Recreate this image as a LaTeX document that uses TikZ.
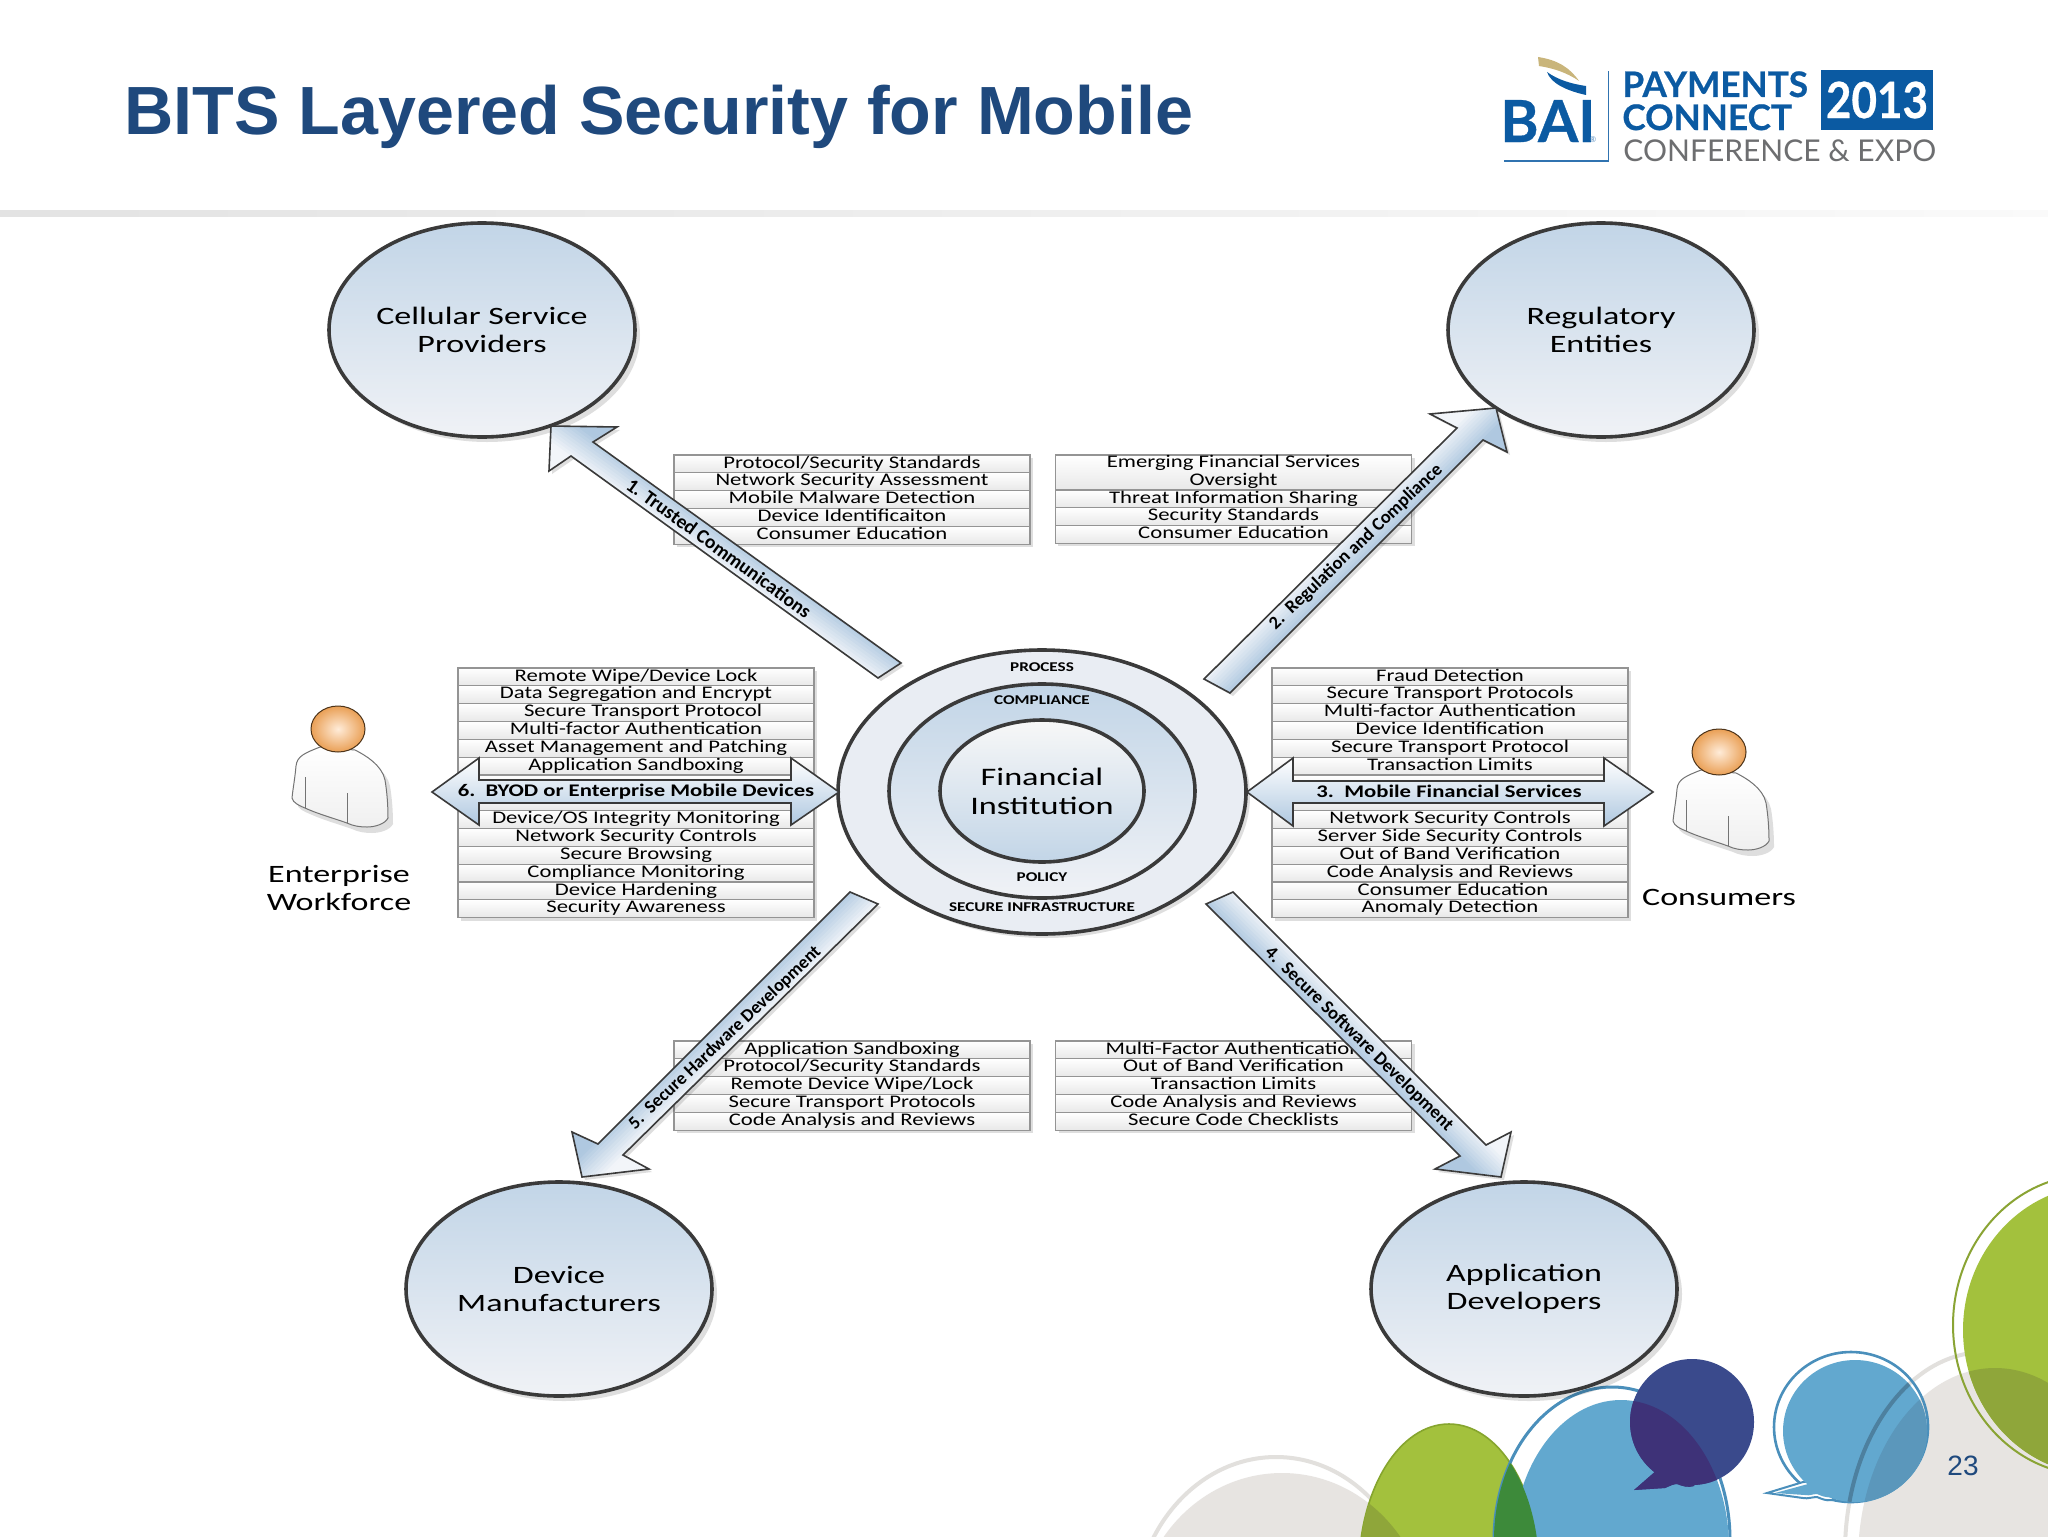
\documentclass[tikz,border=0pt]{standalone}
\usepackage{fontspec}
\usetikzlibrary{shapes.geometric}
\setmainfont{Carlito}
\newfontfamily\wide[FakeStretch=1.28]{Carlito}
\newfontfamily\wider[FakeStretch=1.36]{Carlito}
\newfontfamily\titlefont{Liberation Sans}
\newfontfamily\logofont{Lato}
\newfontfamily\logoheavy[FakeBold=0.6]{Lato}
\newfontfamily\logonarrow[FakeStretch=0.88,FakeBold=0.6]{Lato}
\definecolor{titleblue}{HTML}{1F497D}
\definecolor{logoblue}{HTML}{0B5AA2}
\definecolor{logogray}{HTML}{6D6E70}
\definecolor{logogold}{HTML}{C9B57B}
\definecolor{ringdark}{HTML}{3A3A3A}
\definecolor{ovaltop}{HTML}{C2D5E7}
\definecolor{ovalbot}{HTML}{F0F2F6}
\definecolor{ringfill}{HTML}{E9EDF3}
\definecolor{arrowblue}{HTML}{AFC8E0}
\definecolor{arrowlight}{HTML}{F2F5F9}
\definecolor{bubblegray}{HTML}{E7E4E1}
\definecolor{bubblering}{HTML}{E2E0DD}
\definecolor{bubblegreen}{HTML}{A3C13D}
\definecolor{greenring}{HTML}{86A52E}
\definecolor{olive}{HTML}{8FA63A}
\definecolor{darkgreen}{HTML}{3D8A3A}
\definecolor{bubbleblue}{HTML}{62A8CF}
\definecolor{bluering}{HTML}{4A8FBB}
\definecolor{navy}{HTML}{3A4A8C}
\definecolor{purple2}{HTML}{3E3278}
\definecolor{grayblue}{HTML}{5B97BB}
\tikzset{
  oval/.style={ellipse,draw=ringdark,line width=1.8pt,top color=ovaltop,bottom color=ovalbot,
    minimum width=153pt,minimum height=107pt,inner sep=0pt,align=center,
    font=\wider\fontsize{12.5}{14}\selectfont},
  softshadow/.style={fill=black,opacity=.13},
  tablerow/.style={rectangle,draw=black!42,line width=.6pt,top color=white,bottom color=black!9,
    inner sep=0pt,minimum height=8.92pt,text height=6pt,text depth=1.8pt,
    font=\wide\fontsize{8.87}{10}\selectfont},
  ringlabel/.style={inner sep=0pt,font=\wide\bfseries\fontsize{6.7}{8}\selectfont},
  arrowlabel/.style={inner sep=0pt,font=\bfseries\fontsize{9.5}{11}\selectfont},
  bandlabel/.style={inner sep=0pt,font=\wide\bfseries\fontsize{8.87}{10}\selectfont},
  sidelabel/.style={inner sep=0pt,align=center,font=\wider\fontsize{12.5}{14}\selectfont},
  arrowline/.style={draw=ringdark,line width=.8pt,line join=miter},
  logotext/.style={inner sep=0pt,anchor=base west,text=logoblue},
}
\newcounter{nrows}
\newcommand{\rowstack}[5]{% name, centre x, top y, width in pt, list
  \fill[softshadow] ({#2-#4+3},{#3+3}) rectangle ({#2+#4+3},{#3+3+\value{nrows}*17.83});
  \foreach \t [count=\i] in {#5}{
    \node[tablerow,minimum width=#4pt] (#1\i) at ({#2},{#3+(\i-.5)*17.83}) {\t};
  }}
\newcommand{\blockarrow}[5]{% centre x, centre y, angle, sign, polygon
  \fill[softshadow,shift={(3,3)}] #5 -- cycle;
  \begin{scope}
    \clip #5 -- cycle;
    \begin{scope}[shift={(#1,#2)},rotate=#3]
      \foreach \u in {-51,-48,...,51}{
        \pgfmathsetmacro\pp{max(0,min(100,50+#4*\u*3.2))}
        \fill[arrowblue!\pp!arrowlight] (-400,{\u-2}) rectangle (400,{\u+2});
      }
    \end{scope}
  \end{scope}
  \path[arrowline] #5 -- cycle;}
\newcommand{\person}[2]{%
  \begin{scope}[shift={(#1,#2)}]
    \fill[softshadow,shift={(5,6)}] (320,747) .. controls (305,753) and (297,756) .. (296,766)
      .. controls (295,778) and (293,788) .. (292,798) .. controls (293,803) and (300,806) .. (305,808)
      .. controls (318,814) and (333,818) .. (347,823) .. controls (353,826) and (360,827) .. (367,827)
      .. controls (375,827) and (385,824) .. (388,818) .. controls (388,805) and (387,792) .. (385,780)
      .. controls (382,765) and (365,755) .. (355,750) -- cycle;
    \path[draw=black!55,line width=.5pt,top color=white,bottom color=black!6] (320,747) .. controls (305,753) and (297,756) .. (296,766)
      .. controls (295,778) and (293,788) .. (292,798) .. controls (293,803) and (300,806) .. (305,808)
      .. controls (318,814) and (333,818) .. (347,823) .. controls (353,826) and (360,827) .. (367,827)
      .. controls (375,827) and (385,824) .. (388,818) .. controls (388,805) and (387,792) .. (385,780)
      .. controls (382,765) and (365,755) .. (355,750) -- cycle;
    \draw[black!55,line width=.5pt] (305,777) -- (305,808) (347,793) -- (347,823);
    \path[draw=black!60!brown,line width=.5pt,inner color=white!85!orange,outer color=orange!55!brown!75!white] (338,729) ellipse (27 and 23);
  \end{scope}}
\begin{document}
\begin{tikzpicture}[x=0.5pt,y=-0.5pt]
\useasboundingbox (0,0) rectangle (2048,1536);
\fill[white] (0,0) rectangle (2048,1536);
% ---- divider
\path[left color=black!11,right color=black!2] (0,210) rectangle (2048,216);
% ---- title
\node[inner sep=0pt,anchor=base west,text=titleblue,font=\titlefont\bfseries\fontsize{34.1}{36}\selectfont] (title) at (124,134) {BITS Layered Security for Mobile};
% ---- logo
\fill[logogold] (1538,57) .. controls (1558,60) and (1570,68) .. (1579,81) .. controls (1566,72) and (1552,68) .. (1539,66) -- cycle;
\fill[logoblue] (1547,72) .. controls (1558,80) and (1572,84) .. (1586,86) -- (1586,95) .. controls (1568,91) and (1551,84) .. (1547,72) -- cycle;
\node[logotext,font=\logoheavy\bfseries\fontsize{29}{30}\selectfont] (bai) at (1500,142) {BAI};
\node[inner sep=0pt,text=logoblue!70,font=\logofont\fontsize{4}{5}\selectfont] (reg) at (1593,140) {®};
\draw[logoblue!85,line width=.7pt] (1504,161) -- (1608.5,161) -- (1608.5,71);
\node[logotext,font=\logoheavy\bfseries\fontsize{17.6}{18}\selectfont] (pay) at (1622,97) {PAYMENTS};
\node[logotext,font=\logoheavy\bfseries\fontsize{17.6}{18}\selectfont] (con) at (1622,130) {CONNECT};
\node[rectangle,fill=logoblue,inner sep=0pt,minimum width=56pt,minimum height=30pt,text=white,font=\logonarrow\bfseries\fontsize{25}{26}\selectfont] (year) at (1877,100) {2013};
\node[inner sep=0pt,anchor=base west,text=logogray,font=\logofont\fontsize{15}{17}\selectfont] (conf) at (1623,162) {CONFERENCE \& EXPO};
% ---- bubbles
\begin{scope}
\clip (0,0) rectangle (2048,1536);
% grey left
\draw[bubblering,line width=2pt] (1276,1620) ellipse (142 and 163);
\fill[bubblegray] (1282,1630) ellipse (147 and 157);
% grey right
\draw[bubblering,line width=2pt] (1985,1552) ellipse (140 and 200);
\fill[bubblegray] (1995,1560) ellipse (137 and 192);
% green right
\draw[bubblegreen!85!black,line width=1pt] (2090,1325) ellipse (137 and 150);
\fill[bubblegreen] (2100,1330) ellipse (137 and 145);
\begin{scope}
  \clip (1995,1560) ellipse (137 and 192);
  \fill[olive] (2100,1330) ellipse (137 and 145);
\end{scope}
% green bottom
\fill[bubblegreen] (1449,1570) ellipse (90 and 146);
\draw[greenring,line width=.8pt] (1449,1570) ellipse (90 and 146);
\begin{scope}
  \clip (1282,1630) ellipse (147 and 157);
  \fill[olive] (1449,1570) ellipse (90 and 146);
\end{scope}
% big blue
\draw[bluering,line width=1.5pt] (1612,1540) ellipse (118 and 153);
\fill[bubbleblue] (1621,1548) ellipse (108 and 148);
\begin{scope}
  \clip (1449,1570) ellipse (90 and 146);
  \fill[darkgreen] (1612,1540) ellipse (118 and 153);
\end{scope}
% navy speech bubble
\fill[navy] (1692,1422) ellipse (62 and 63);
\fill[navy] (1657,1470) -- (1634,1490) -- (1665,1488) .. controls (1670,1486) and (1673,1484) .. (1677,1484) .. controls (1682,1486) and (1688,1488) .. (1694,1486) -- (1700,1470) -- cycle;
\begin{scope}
  \clip (1621,1548) ellipse (108 and 148);
  \fill[purple2] (1692,1422) ellipse (62 and 63);
  \fill[purple2] (1657,1470) -- (1634,1490) -- (1665,1488) .. controls (1670,1486) and (1673,1484) .. (1677,1484) .. controls (1682,1486) and (1688,1488) .. (1694,1486) -- (1700,1470) -- cycle;
\end{scope}
% light blue speech bubble
\draw[bluering,line width=1.3pt] (1851,1427) ellipse (77 and 75);
\draw[bluering,line width=1pt,fill=white] (1803,1482) -- (1767,1493) -- (1803,1498) .. controls (1808,1499) and (1812,1497) .. (1817,1497) .. controls (1822,1499) and (1826,1501) .. (1832,1500) -- (1850,1480) -- cycle;
\fill[bubbleblue] (1855,1431) ellipse (72 and 71);
\fill[bubbleblue] (1808,1484) -- (1775,1493) -- (1805,1495) .. controls (1810,1496) and (1812,1494) .. (1817,1494) .. controls (1822,1496) and (1826,1498) .. (1832,1497) -- (1850,1480) -- cycle;
\begin{scope}
  \clip (1995,1560) ellipse (137 and 192);
  \fill[grayblue] (1855,1431) ellipse (72 and 71);
\end{scope}
\begin{scope}
  \clip (1855,1431) ellipse (72 and 71);
  \draw[grayblue!85!black,line width=2pt] (1985,1552) ellipse (140 and 200);
\end{scope}
\end{scope}
\node[inner sep=0pt,text=titleblue,font=\titlefont\fontsize{14}{16}\selectfont] (page) at (1963,1466) {23};
% ---- tables
\setcounter{nrows}{5}
\rowstack{tl}{852}{455}{178}{Protocol/Security Standards,Network Security Assessment,Mobile Malware Detection,Device Identificaiton,Consumer Education}
\fill[softshadow] (1058,458) rectangle (1415,546);
\node[tablerow,minimum width=178pt,minimum height=17.5pt] (tr1) at (1233.5,472.5) {};
\node[inner sep=0pt,align=center,font=\wide\fontsize{8.87}{9}\selectfont] (tr1text) at (1233.5,471.5) {Emerging Financial Services\\ Oversight};
\foreach \t [count=\i from 2] in {Threat Information Sharing,Security Standards,Consumer Education}{
  \node[tablerow,minimum width=178pt] (tr\i) at (1233.5,{490+(\i-1.5)*17.83}) {\t};
}
\rowstack{bl}{852}{1041}{178}{Application Sandboxing,Protocol/Security Standards,Remote Device Wipe/Lock,Secure Transport Protocols,Code Analysis and Reviews}
\rowstack{br}{1233.5}{1041}{178}{Multi-Factor Authentication,Out of Band Verification,Transaction Limits,Code Analysis and Reviews,Secure Code Checklists}
\setcounter{nrows}{14}
\rowstack{lt}{636}{668}{178}{Remote Wipe/Device Lock,Data Segregation and Encrypt,\hspace*{7pt}Secure Transport Protocol,Multi-factor Authentication,Asset Management and Patching,Application Sandboxing,{},{},Device/OS Integrity Monitoring,Network Security Controls,Secure Browsing,Compliance Monitoring,Device Hardening,Security Awareness}
\rowstack{rt}{1450}{668}{178}{Fraud Detection,Secure Transport Protocols,Multi-factor Authentication,Device Identification,Secure Transport Protocol,Transaction Limits,{},{},Network Security Controls,Server Side Security Controls,Out of Band Verification,Code Analysis and Reviews,\hspace*{3pt}Consumer Education,Anomaly Detection}
% ---- outer ovals
\foreach \n/\x/\y/\t in {cell/482/330/{Cellular Service\\Providers},reg2/1601/330/{Regulatory\\Entities},dev/559/1289/{Device\\Manufacturers},app/1524/1289/{Application\\Developers}}{
  \fill[softshadow] ({\x+5},{\y+5}) ellipse (153 and 107);
  \node[oval] (\n) at (\x,\y) {\t};
}
% ---- centre rings
\fill[softshadow] (1046,796) ellipse (204 and 142);
\node[ellipse,draw=ringdark,line width=1.8pt,fill=ringfill,minimum width=204pt,minimum height=142pt,inner sep=0pt] (outer) at (1042,792) {};
\node[ellipse,draw=ringdark,line width=1.8pt,top color=ovaltop,bottom color=ovalbot,minimum width=153pt,minimum height=107pt,inner sep=0pt] (mid) at (1042,791) {};
\node[ellipse,draw=ringdark,line width=1.8pt,top color=white!97!black,bottom color=ovaltop,minimum width=102pt,minimum height=71pt,inner sep=0pt,align=center,font=\wider\fontsize{12.6}{14.5}\selectfont] (fi) at (1042,791) {Financial\\Institution};
\node[ringlabel] (process) at (1042,667) {PROCESS};
\node[ringlabel] (compl) at (1042,700) {COMPLIANCE};
\node[ringlabel] (policy) at (1042,877) {POLICY};
\node[ringlabel] (infra) at (1042,907) {SECURE INFRASTRUCTURE};
% ---- people
\person{0}{0}
\person{1381}{23}
\node[sidelabel] (ew) at (339,888) {Enterprise\\Workforce};
\node[sidelabel] (cons) at (1719,897) {Consumers};
% ---- double arrows
\path[arrowline,top color=white,bottom color=arrowblue] (432,792) -- (479,758) -- (479,780) -- (791,780) -- (791,758) -- (839,792) -- (791,825) -- (791,803) -- (479,803) -- (479,825) -- cycle;
\node[bandlabel] (band6) at (636,792) {6.\ \ BYOD or Enterprise Mobile Devices};
\path[arrowline,top color=white,bottom color=arrowblue] (1247,792) -- (1293,758) -- (1293,781) -- (1604,781) -- (1604,758) -- (1653,792) -- (1604,826) -- (1604,803) -- (1293,803) -- (1293,826) -- cycle;
\node[bandlabel] (band3) at (1449,791) {3.\ \ Mobile Financial Services};
% ---- block arrows
\blockarrow{720}{548}{-36}{-1}{(551,426) -- (617,427) -- (593,442) -- (901,663) -- (878,678) -- (571,456) -- (549,471)}
\node[arrowlabel,rotate=-36,font=\bfseries\fontsize{9.8}{11}\selectfont] (a1) at (719,548) {1. Trusted Communications};
\blockarrow{1356}{547}{45}{1}{(1496,408) -- (1430,414) -- (1457,428) -- (1204,679) -- (1230,693) -- (1483,440) -- (1507,452)}
\node[arrowlabel,rotate=43.5,font=\bfseries\fontsize{9.2}{11}\selectfont] (a2) at (1356,547) {2.\ \ Regulation and Compliance};
\blockarrow{723}{1037}{44.7}{-1}{(850,892) -- (878,904) -- (623,1155) -- (649,1169) -- (582,1177) -- (572,1132) -- (598,1144)}
\node[arrowlabel,rotate=43.5,font=\bfseries\fontsize{9.1}{11}\selectfont] (a5) at (725,1038) {5.\ \ Secure Hardware Development};
\blockarrow{1360}{1037}{-44.7}{1}{(1206,904) -- (1233,892) -- (1486,1145) -- (1511,1132) -- (1501,1177) -- (1435,1169) -- (1460,1156)}
\node[arrowlabel,rotate=-44.3,font=\bfseries\fontsize{9.25}{11}\selectfont] (a4) at (1359,1039) {4.\ \ Secure Software Development};
\end{tikzpicture}
\end{document}
